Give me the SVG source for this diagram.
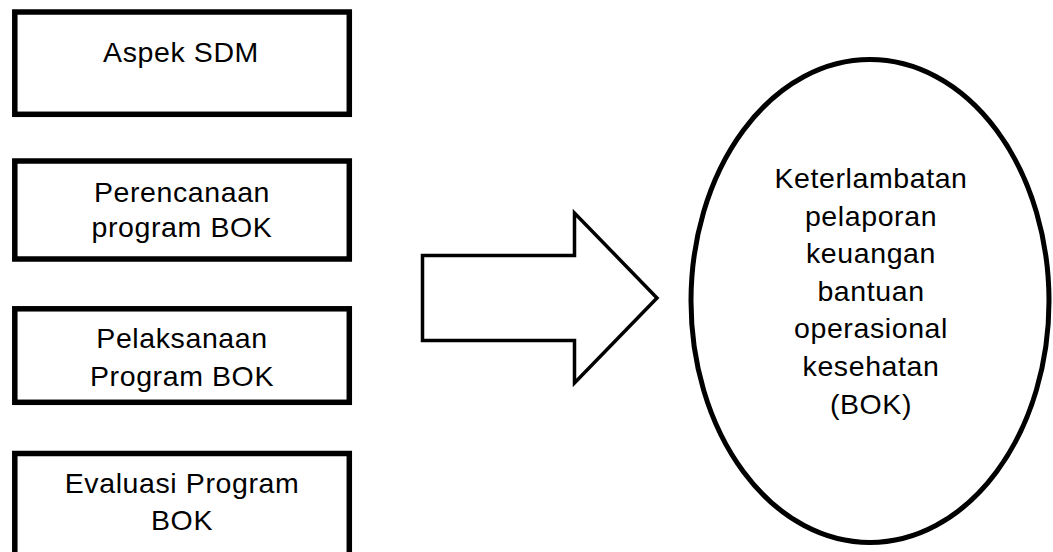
<svg xmlns="http://www.w3.org/2000/svg" width="1053" height="552" viewBox="0 0 1053 552">
<style>
.box{fill:#fff;stroke:#000;stroke-width:5.5}
.ell{fill:#fff;stroke:#000;stroke-width:5}
.arrow{fill:#fff;stroke:#000;stroke-width:3.5;stroke-linejoin:miter}
text{font-family:"Liberation Sans",Arial,sans-serif;font-size:28.5px;letter-spacing:0.6px;fill:#000;text-anchor:middle}
</style>
<rect width="1053" height="552" fill="#fff"/>
<g id="node-aspek-sdm">
<rect class="box" x="14.8" y="12" width="334.5" height="102.3"/>
<text x="181" y="62.3">Aspek SDM</text>
</g>
<g id="node-perencanaan">
<rect class="box" x="14.8" y="161" width="334.5" height="98"/>
<text x="182" y="202.3">Perencanaan</text>
<text x="182" y="236.7">program BOK</text>
</g>
<g id="node-pelaksanaan">
<rect class="box" x="14.8" y="308.8" width="334.5" height="93.5"/>
<text x="182" y="348.3">Pelaksanaan</text>
<text x="182" y="386">Program BOK</text>
</g>
<g id="node-evaluasi">
<rect class="box" x="14.8" y="453.5" width="334.5" height="130"/>
<text x="182" y="492.7">Evaluasi Program</text>
<text x="182" y="530">BOK</text>
</g>
<g id="connectors">
<polygon class="arrow" points="422.5,255.5 574.5,255.5 574.5,213 657,298 574.5,383 574.5,340.5 422.5,340.5"/>
</g>
<g id="node-keterlambatan">
<ellipse class="ell" cx="870" cy="301" rx="179" ry="241.5"/>
<text x="871" y="188">Keterlambatan</text>
<text x="871" y="225.6">pelaporan</text>
<text x="871" y="263.2">keuangan</text>
<text x="871" y="300.8">bantuan</text>
<text x="871" y="338.4">operasional</text>
<text x="871" y="376">kesehatan</text>
<text x="871" y="413.6">(BOK)</text>
</g>
</svg>
